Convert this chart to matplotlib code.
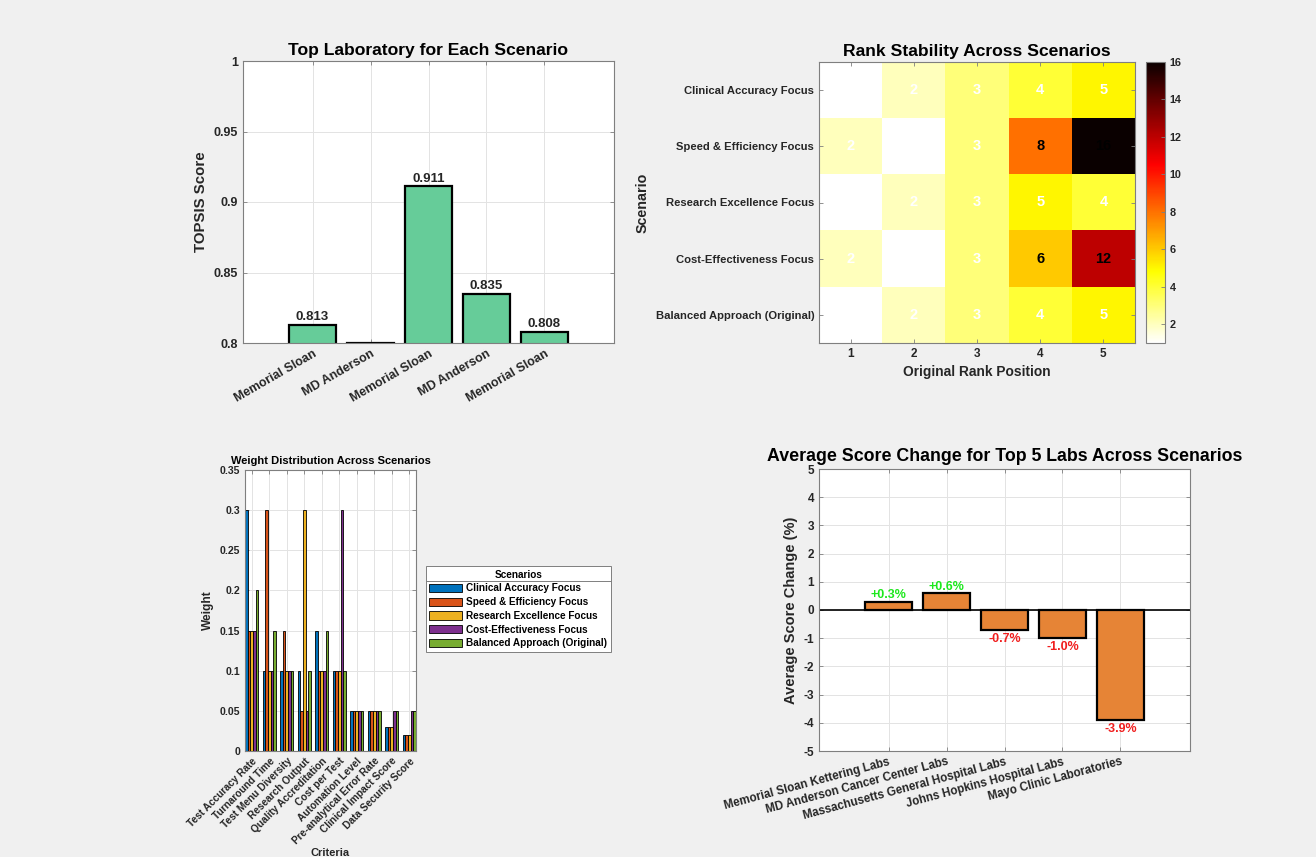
import matplotlib

matplotlib.use("Agg")

import matplotlib.pyplot as plt
from matplotlib.lines import Line2D
import numpy as np

plt.rcParams["font.family"] = ["Liberation Sans", "DejaVu Sans"]
plt.rcParams["font.weight"] = "bold"
plt.rcParams["axes.titleweight"] = "bold"
plt.rcParams["axes.labelweight"] = "bold"
plt.rcParams["axes.unicode_minus"] = False

FIG_W, FIG_H = 1316, 857
BG = "#F0F0F0"
TEXT = "#262626"
SPINE = "#7F7F7F"
GRID = "#E3E3E3"

# --- data -------------------------------------------------------------------
scenarios = [
    "Clinical Accuracy Focus",
    "Speed & Efficiency Focus",
    "Research Excellence Focus",
    "Cost-Effectiveness Focus",
    "Balanced Approach (Original)",
]

top_lab_names = ["Memorial Sloan", "MD Anderson", "Memorial Sloan", "MD Anderson", "Memorial Sloan"]
top_lab_scores = [0.813, 0.800, 0.911, 0.835, 0.808]

rank_positions = [1, 2, 3, 4, 5]
rank_clinical = [1, 2, 3, 4, 5]
rank_speed = [2, 1, 3, 8, 16]
rank_research = [1, 2, 3, 5, 4]
rank_cost = [2, 1, 3, 6, 12]
rank_balanced = [1, 2, 3, 4, 5]

criteria = [
    "Test Accuracy Rate",
    "Turnaround Time",
    "Test Menu Diversity",
    "Research Output",
    "Quality Accreditation",
    "Cost per Test",
    "Automation Level",
    "Pre-analytical Error Rate",
    "Clinical Impact Score",
    "Data Security Score",
]
w_clinical = [0.30, 0.10, 0.10, 0.10, 0.15, 0.10, 0.05, 0.05, 0.03, 0.02]
w_speed = [0.15, 0.30, 0.15, 0.05, 0.10, 0.10, 0.05, 0.05, 0.03, 0.02]
w_research = [0.15, 0.10, 0.10, 0.30, 0.10, 0.10, 0.05, 0.05, 0.03, 0.02]
w_cost = [0.15, 0.10, 0.10, 0.05, 0.10, 0.30, 0.05, 0.05, 0.05, 0.05]
w_balanced = [0.20, 0.15, 0.10, 0.10, 0.15, 0.10, 0.05, 0.05, 0.05, 0.05]

top5_labs = [
    "Memorial Sloan Kettering Labs",
    "MD Anderson Cancer Center Labs",
    "Massachusetts General Hospital Labs",
    "Johns Hopkins Hospital Labs",
    "Mayo Clinic Laboratories",
]
avg_change = [0.3, 0.6, -0.7, -1.0, -3.9]

SERIES_COLORS = ["#0072BD", "#D95319", "#EDB120", "#7E2F8E", "#77AC30"]


def px_axes(fig, left, top, right, bottom):
    return fig.add_axes([left / FIG_W, 1 - bottom / FIG_H,
                         (right - left) / FIG_W, (bottom - top) / FIG_H])


def style_axes(ax, fs, grid=True):
    ax.set_facecolor("white")
    for spine in ax.spines.values():
        spine.set_color(SPINE)
        spine.set_linewidth(0.8)
    ax.tick_params(direction="in", length=3, width=0.6, color=SPINE,
                   labelcolor=TEXT, labelsize=fs, top=True, right=True)
    if grid:
        ax.grid(True, color=GRID, linewidth=0.7)
        ax.set_axisbelow(True)


fig = plt.figure(figsize=(FIG_W / 100, FIG_H / 100), dpi=100)
fig.patch.set_facecolor(BG)

# --- top-left: best lab per scenario ----------------------------------------
ax1 = px_axes(fig, 243, 61, 614, 343)
style_axes(ax1, 9)
x1 = np.arange(1, len(top_lab_scores) + 1)
ax1.bar(x1, top_lab_scores, width=0.8, color="#66CC99", edgecolor="black", linewidth=1.6)
ax1.set_ylim(0.8, 1.0)
ax1.set_xlim(-0.2, 6.2)
ax1.set_yticks([0.8, 0.85, 0.9, 0.95, 1.0])
ax1.set_yticklabels(["0.8", "0.85", "0.9", "0.95", "1"])
ax1.set_xticks(x1)
ax1.set_xticklabels(top_lab_names, rotation=30, ha="right", rotation_mode="anchor", fontsize=9)
for xi, v in zip(x1, top_lab_scores):
    if v > 0.8:
        ax1.text(xi, v + 0.001, f"{v:.3f}", ha="center", va="bottom", fontsize=9.5, color=TEXT)
ax1.set_title("Top Laboratory for Each Scenario", fontsize=12.6, color="black", pad=4)
ax1.set_ylabel("TOPSIS Score", fontsize=10.8, color=TEXT)

# --- top-right: rank stability heatmap --------------------------------------
ax2 = px_axes(fig, 819, 62, 1135, 343)
style_axes(ax2, 8.1, grid=False)
ranks = np.array([rank_clinical, rank_speed, rank_research, rank_cost, rank_balanced])
im = ax2.imshow(ranks, cmap="hot_r", vmin=1, vmax=16, aspect="auto",
                extent=(0.5, 5.5, 5.5, 0.5), interpolation="nearest")
ax2.set_xticks(rank_positions)
ax2.set_yticks(np.arange(1, len(scenarios) + 1))
ax2.set_yticklabels(scenarios)
ax2.tick_params(axis="x", labelsize=8.5)
for r in range(ranks.shape[0]):
    for c in range(ranks.shape[1]):
        v = ranks[r, c]
        ax2.text(c + 1, r + 1, str(v), ha="center", va="center", fontsize=10.5,
                 color="white" if v <= 5 else "black")
ax2.set_title("Rank Stability Across Scenarios", fontsize=12.6, color="black", pad=4)
ax2.set_xlabel("Original Rank Position", fontsize=9.9, color=TEXT, labelpad=4)
ax2.set_ylabel("Scenario", fontsize=10.3, color=TEXT)

cax = px_axes(fig, 1146, 62, 1165, 343)
cb = fig.colorbar(im, cax=cax, ticks=np.arange(2, 17, 2))
cb.outline.set_edgecolor(SPINE)
cb.outline.set_linewidth(0.8)
cax.tick_params(direction="in", length=3, width=0.6, color=SPINE, labelcolor=TEXT, labelsize=7.8)

# --- bottom-left: grouped weights -------------------------------------------
ax3 = px_axes(fig, 245, 470, 416, 751)
style_axes(ax3, 7.6)
weights = [w_clinical, w_speed, w_research, w_cost, w_balanced]
x3 = np.arange(1, len(criteria) + 1)
group_w = 0.77
bw = group_w / len(weights)
handles = []
for i, (w, col) in enumerate(zip(weights, SERIES_COLORS)):
    offs = -group_w / 2 + bw * (i + 0.5)
    h = ax3.bar(x3 + offs, w, width=bw, color=col, edgecolor="black", linewidth=0.6)
    handles.append(h)
ax3.set_xlim(1 - group_w / 2, len(criteria) + group_w / 2)
ax3.set_ylim(0, 0.35)
ax3.set_yticks(np.arange(0, 0.351, 0.05))
ax3.set_yticklabels(["0", "0.05", "0.1", "0.15", "0.2", "0.25", "0.3", "0.35"])
ax3.set_xticks(x3)
ax3.set_xticklabels(criteria, rotation=45, ha="right", rotation_mode="anchor", fontsize=7.3)
ax3.set_title("Weight Distribution Across Scenarios", fontsize=8, color="black", pad=4)
ax3.set_ylabel("Weight", fontsize=8.6, color=TEXT)
ax3.set_xlabel("Criteria", fontsize=8, color=TEXT, labelpad=1)

leg = ax3.legend(handles, scenarios, title="Scenarios", loc="upper left",
                 bbox_to_anchor=(426 / FIG_W, 1 - 566 / FIG_H), bbox_transform=fig.transFigure,
                 fontsize=7.2, title_fontsize=7.2, frameon=True, fancybox=False,
                 handlelength=3.3, handleheight=0.9, borderpad=0.35, labelspacing=0.38,
                 handletextpad=0.35, borderaxespad=0)
leg.get_frame().set_edgecolor(SPINE)
leg.get_frame().set_linewidth(0.7)
leg.get_frame().set_alpha(1)
leg.get_title().set_fontweight("bold")
leg._legend_title_box.sep = 9

# --- bottom-right: average score change -------------------------------------
ax4 = px_axes(fig, 819, 469, 1190, 751)
style_axes(ax4, 8.5)
x4 = np.arange(1, len(avg_change) + 1)
ax4.bar(x4, avg_change, width=0.8, color="#E68436", edgecolor="black", linewidth=1.6)
ax4.axhline(0, color="black", linewidth=1.2)
ax4.set_xlim(-0.2, 6.2)
ax4.set_ylim(-5, 5)
ax4.set_yticks(np.arange(-5, 6, 1))
ax4.set_xticks(x4)
ax4.set_xticklabels(top5_labs, rotation=15, ha="right", rotation_mode="anchor", fontsize=8.4)
for xi, v in zip(x4, avg_change):
    if v >= 0:
        ax4.text(xi, v + 0.02, f"+{v:.1f}%", ha="center", va="bottom", fontsize=9, color="#1EE81E")
    else:
        ax4.text(xi, v - 0.1, f"{v:.1f}%", ha="center", va="top", fontsize=9, color="#F01E1E")
ax4.set_title("Average Score Change for Top 5 Labs Across Scenarios", fontsize=12.8, color="black", pad=6)
ax4.set_ylabel("Average Score Change (%)", fontsize=10.5, color=TEXT)

# separator under the legend title, placed from the rendered layout
fig.canvas.draw()
renderer = fig.canvas.get_renderer()
frame_bb = leg.get_frame().get_window_extent(renderer)
title_bb = leg.get_title().get_window_extent(renderer)
first_bb = leg.get_texts()[0].get_window_extent(renderer)
sep_y = (title_bb.y0 + first_bb.y1) / 2
inv = fig.transFigure.inverted()
(x0, y0), (x1_, _) = inv.transform([(frame_bb.x0, sep_y), (frame_bb.x1, sep_y)])
fig.add_artist(Line2D([x0, x1_], [y0, y0], transform=fig.transFigure, color=SPINE, linewidth=0.7))

fig.savefig("out.png", dpi=100, facecolor=BG)
